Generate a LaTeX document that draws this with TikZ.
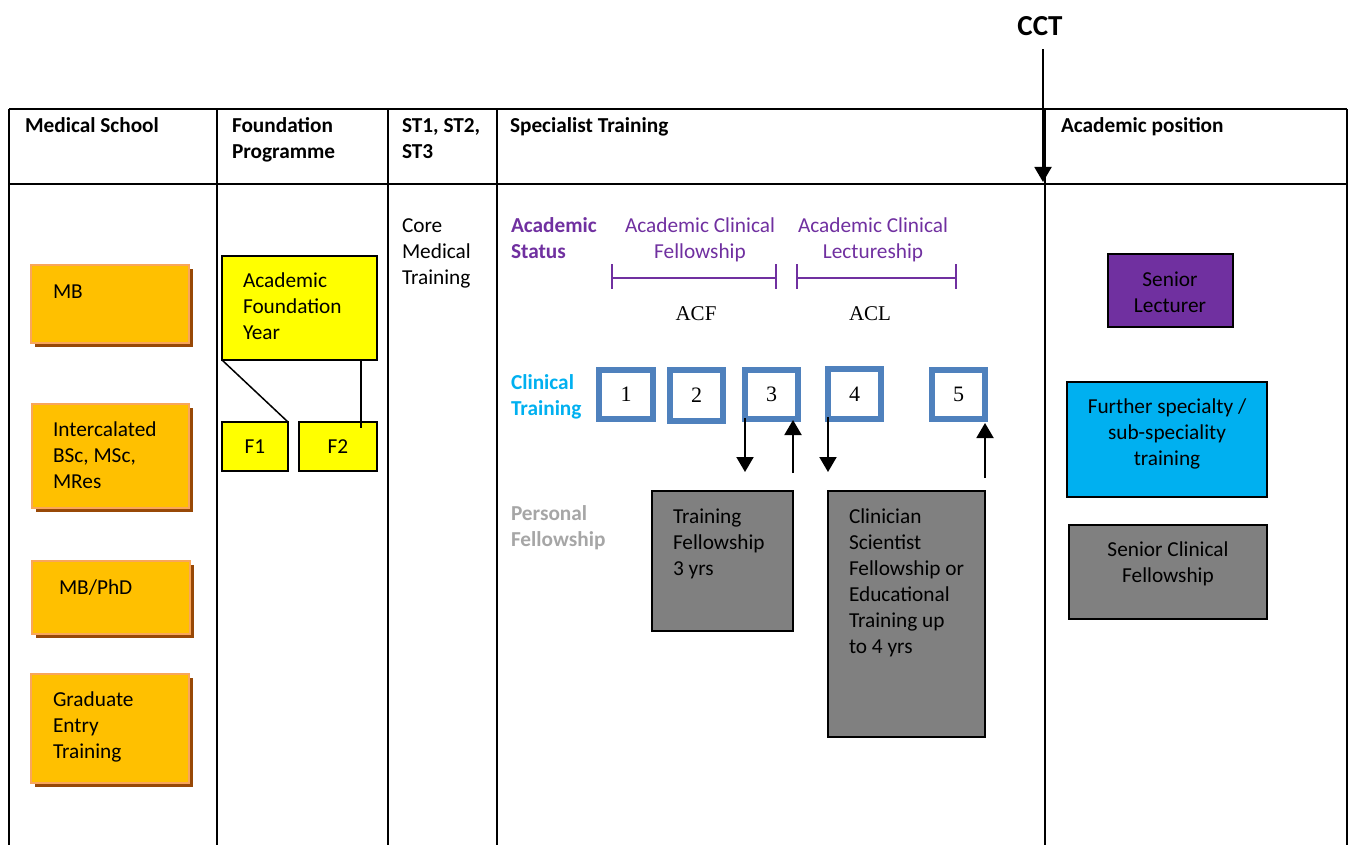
\documentclass[tikz,border=0pt]{standalone}
\usepackage{fontspec}
\setmainfont{Carlito}
\newfontfamily\tnr{Liberation Serif}
\usetikzlibrary{arrows.meta,shadows}
\definecolor{orfill}{HTML}{FFC000}
\definecolor{orline}{HTML}{F9A65A}
\definecolor{orshadow}{HTML}{984806}
\definecolor{ylw}{HTML}{FFFF00}
\definecolor{blu}{HTML}{4F81BD}
\definecolor{purp}{HTML}{7030A0}
\definecolor{cyn}{HTML}{00B0F0}
\definecolor{gry}{HTML}{808080}
\definecolor{lgry}{HTML}{A6A6A6}
\newcommand{\boxnode}[6]{\node[#1, minimum width={#4-#2}, minimum height={#5-#3}] (#6) at ({(#2+#4)/2},{(#3+#5)/2}) {};}
\begin{document}
\begin{tikzpicture}[x=1pt,y=-1pt,
  every node/.style={inner sep=0pt, outer sep=0pt},
  txt/.style={font=\fontsize{21.3}{26}\selectfont, align=left, anchor=base west},
  ctxt/.style={font=\fontsize{21.3}{26}\selectfont, align=center, anchor=base},
  hdr/.style={font=\fontsize{21.3}{26}\selectfont\bfseries, align=left, anchor=base west},
  num/.style={font=\fontsize{22}{26}\selectfont\tnr, anchor=center},
  tbl/.style={line width=2pt, black},
  orbox/.style={draw=orline, fill=orfill, line width=2.5pt, drop shadow={shadow xshift=4pt, shadow yshift=-4pt, fill=orshadow, opacity=1}},
  ybox/.style={draw=black, fill=ylw, line width=2pt},
  gbox/.style={draw=black, fill=gry, line width=2pt},
  pbox/.style={draw=black, fill=purp, line width=2pt},
  cbox/.style={draw=black, fill=cyn, line width=2pt},
  sq/.style={draw=blu, fill=white, line width=6pt},
  arr/.style={line width=2pt, black, -{Triangle[width=17pt,length=15pt]}},
  thinln/.style={line width=1.5pt, black},
  brk/.style={line width=2pt, purp}
]
\useasboundingbox (0,0) rectangle (1351,845);
% table
\draw[tbl] (9,109) -- (1347,109);
\draw[tbl] (9,184) -- (1347,184);
\foreach \xx in {9,217,388,497,1045,1347} {\draw[tbl] (\xx,109) -- (\xx,845);}
% headers (multi-line nodes are placed at the baseline of their last line)
\node[hdr] (h1) at (25,133) {Medical School};
\node[hdr] (h2) at (232,159) {Foundation\\Programme};
\node[hdr] (h3) at (402,159) {ST1, ST2,\\ST3};
\node[hdr] (h4) at (510,133) {Specialist Training};
\node[hdr] (h5) at (1061,133) {Academic position};
\node[font=\fontsize{29}{32}\selectfont\bfseries, anchor=base] (cct) at (1040,36) {CCT};
\coordinate (cctend) at (1043,182);
\draw[arr] ([shift={(3,13)}]cct.south) -- (cctend);
% medical school
\boxnode{orbox}{31}{265}{189}{343}{mb}
\boxnode{orbox}{32}{404}{189}{508}{ic}
\boxnode{orbox}{32}{561}{190}{634}{mbphd}
\boxnode{orbox}{31}{674}{189}{783}{ge}
\node[txt] (tmb) at (53,298) {MB};
\node[txt] (tic) at (53,488) {Intercalated\\BSc, MSc,\\MRes};
\node[txt] (tmbphd) at (59,594) {MB/PhD};
\node[txt] (tge) at (53,758) {Graduate\\Entry\\Training};
% foundation
\boxnode{ybox}{222}{256}{377}{360}{afy}
\boxnode{ybox}{222}{422}{288}{471}{f1}
\boxnode{ybox}{299}{422}{377}{471}{f2}
\node[txt] (tafy) at (243,339) {Academic\\Foundation\\Year};
\node[ctxt] (tf1) at (255,453) {F1};
\node[ctxt] (tf2) at (338,453) {F2};
\draw[thinln] (afy.south west) -- (f1.north east);
\draw[thinln] ([shift={(-16,0)}]afy.south east) -- ([shift={(62,6)}]f2.north west);
% core
\node[txt] (core) at (402,284) {Core\\Medical\\Training};
% specialist
\node[hdr, text=purp] (as) at (511,258) {Academic\\Status};
\node[ctxt, text=purp] (acf) at (700,258) {Academic Clinical\\Fellowship};
\node[ctxt, text=purp] (acl) at (873,258) {Academic Clinical\\Lectureship};
\draw[brk] (612,264) -- (612,289) (612,278) -- (776,278) (776,264) -- (776,289);
\draw[brk] (797,264) -- (797,289) (797,278) -- (956,278) (956,264) -- (956,289);
\node[font=\fontsize{21}{26}\selectfont\tnr, anchor=base] (tacf) at (696,320) {ACF};
\node[font=\fontsize{21}{26}\selectfont\tnr, anchor=base] (tacl) at (870,320) {ACL};
\node[hdr, text=cyn] (ct) at (511,415) {Clinical\\Training};
\boxnode{sq}{599}{370}{653}{419}{b1}
\boxnode{sq}{670}{370}{723}{421}{b2}
\boxnode{sq}{745}{370}{798}{419}{b3}
\boxnode{sq}{828}{369}{881}{419}{b4}
\boxnode{sq}{932}{370}{985}{419}{b5}
\node[num] (n1) at (b1) {1};
\node[num] (n2) at (b2) {2};
\node[num] (n3) at (b3) {3};
\node[num] (n4) at (b4) {4};
\node[num] (n5) at (b5) {5};
\node[hdr, text=lgry] (pf) at (511,546) {Personal\\Fellowship};
\boxnode{gbox}{652}{491}{793}{631}{tf}
\boxnode{gbox}{828}{491}{985}{737}{cs}
\node[txt] (ttf) at (673,575) {Training\\Fellowship\\3 yrs};
\node[txt] (tcs) at (849,653) {Clinician\\Scientist\\Fellowship or\\Educational\\Training up\\to 4 yrs};
\draw[arr] ([shift={(0,-1)}]b3.south west) -- ([shift={(93,-19)}]tf.north west);
\draw[arr] ([shift={(0,-18)}]tf.north east) -- ([shift={(-5,1)}]b3.south east);
\draw[arr] ([shift={(0,-2)}]b4.south west) -- ([shift={(0,-19)}]cs.north west);
\draw[arr] ([shift={(0,-13)}]cs.north east) -- ([shift={(0,4)}]b5.south east);
% academic position
\boxnode{pbox}{1108}{254}{1233}{327}{sl}
\boxnode{cbox}{1067}{382}{1267}{497}{fs}
\boxnode{gbox}{1069}{525}{1267}{619}{sc}
\node[ctxt] (tsl) at (1170,312) {Senior\\Lecturer};
\node[ctxt] (tfs) at (1167,465) {Further specialty /\\sub-speciality\\training};
\node[ctxt] (tsc) at (1168,582) {Senior Clinical\\Fellowship};
\end{tikzpicture}
\end{document}
